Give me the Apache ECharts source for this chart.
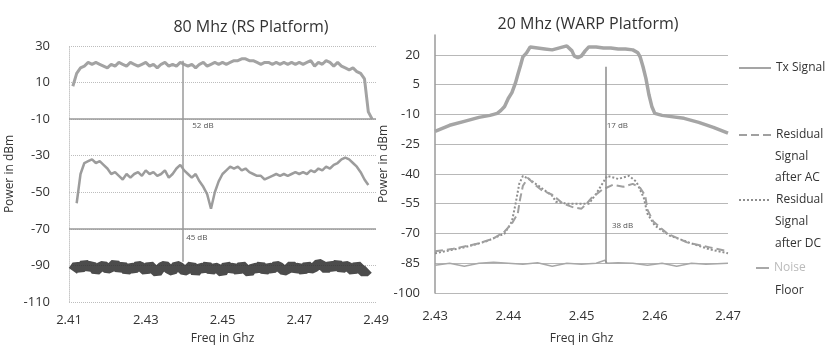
<!DOCTYPE html>
<html>
<head>
<meta charset="utf-8">
<title>Tx / residual spectrum</title>
<script src="https://cdn.jsdelivr.net/npm/echarts@6/dist/echarts.min.js"></script>
<style>
  html, body { margin: 0; padding: 0; background: #ffffff; }
  #chart { width: 838px; height: 350px; }
</style>
</head>
<body>
<div id="chart"></div>
<script>
// RS platform (80 MHz), one sample per MHz
const freqRS = [
  2.410, 2.411, 2.412, 2.413, 2.414, 2.415, 2.416, 2.417, 2.418, 2.419,
  2.420, 2.421, 2.422, 2.423, 2.424, 2.425, 2.426, 2.427, 2.428, 2.429,
  2.430, 2.431, 2.432, 2.433, 2.434, 2.435, 2.436, 2.437, 2.438, 2.439,
  2.440, 2.441, 2.442, 2.443, 2.444, 2.445, 2.446, 2.447, 2.448, 2.449,
  2.450, 2.451, 2.452, 2.453, 2.454, 2.455, 2.456, 2.457, 2.458, 2.459,
  2.460, 2.461, 2.462, 2.463, 2.464, 2.465, 2.466, 2.467, 2.468, 2.469,
  2.470, 2.471, 2.472, 2.473, 2.474, 2.475, 2.476, 2.477, 2.478, 2.479,
  2.480, 2.481, 2.482, 2.483, 2.484, 2.485, 2.486, 2.487, 2.488, 2.489,
  2.490
];
const txRS = [
  null, 8, 15, 18, 19, 21, 20, 21, 20, 19,
  18, 20, 19, 21, 20, 19, 21, 20, 19, 20,
  21, 19, 20, 18, 20, 21, 19, 20, 19, 21,
  20, 19, 20, 18, 20, 21, 19, 20, 21, 20,
  21, 20, 21, 22, 22, 23, 23, 22, 22, 21,
  20, 21, 21, 20, 21, 20, 21, 20, 21, 20,
  21, 20, 21, 22, 19, 21, 20, 22, 21, 19,
  21, 19, 18, 17, 18, 16, 15, 12, -6, -10,
  null
];
const residualRS = [
  null, null, -56, -40, -34, -33, -32, -34, -33, -35,
  -37, -40, -39, -41, -43, -40, -42, -40, -39, -41,
  -38, -40, -39, -41, -40, -38, -42, -40, -37, -35,
  -38, -40, -42, -40, -44, -47, -51, -59, -50, -44,
  -40, -38, -36, -37, -36, -38, -37, -39, -40, -41,
  -41, -43, -42, -41, -40, -41, -40, -41, -40, -39,
  -40, -39, -40, -38, -39, -37, -38, -36, -37, -35,
  -34, -32, -31, -32, -34, -36, -39, -43, -46, null,
  null
];
const noiseRS = [
  null, -93, -90, -92, -89, -91, -90, -93, -91, -90,
  -92, -91, -89, -92, -90, -93, -91, -92, -90, -91,
  -93, -90, -92, -94, -91, -90, -92, -93, -90, -91,
  -93, -92, -90, -94, -91, -92, -90, -93, -91, -92,
  -94, -90, -92, -91, -93, -90, -92, -94, -91, -92,
  -90, -93, -91, -92, -90, -91, -93, -92, -90, -92,
  -91, -93, -90, -92, -91, -89, -90, -92, -90, -91,
  -89, -92, -90, -91, -93, -90, -92, -94, -92, null,
  null
];

// WARP platform (20 MHz), [GHz, dBm]
const txWarp = [
  [2.430, -18.5], [2.432, -15.5], [2.434, -13.5], [2.436, -11.5], [2.4375, -10.5],
  [2.4385, -9.5], [2.439, -8], [2.4395, -6], [2.440, -2], [2.4405, 1],
  [2.441, 6], [2.4413, 10], [2.4417, 15], [2.442, 19], [2.4425, 21],
  [2.443, 24], [2.444, 23.5], [2.445, 23], [2.446, 22.5], [2.447, 23.5],
  [2.448, 24.5], [2.4487, 22], [2.449, 19.5], [2.4495, 18.5], [2.450, 19.5],
  [2.4505, 22], [2.451, 24], [2.452, 24], [2.453, 23.5], [2.454, 23.5],
  [2.455, 23], [2.456, 23], [2.457, 22.5], [2.4577, 21], [2.458, 19],
  [2.4584, 14], [2.4588, 8], [2.4592, 0], [2.4596, -6], [2.460, -9.5],
  [2.461, -10.5], [2.462, -11], [2.464, -12], [2.466, -14], [2.468, -16.5],
  [2.470, -19.5]
];
const residualAC = [
  [2.430, -79], [2.4325, -77.7], [2.436, -75], [2.438, -72.5], [2.4395, -69],
  [2.4405, -65], [2.4413, -60], [2.4416, -53], [2.442, -46], [2.4427, -42],
  [2.4435, -45], [2.4445, -48], [2.446, -50.5], [2.4475, -55], [2.449, -57],
  [2.450, -57.5], [2.4507, -55], [2.4514, -52], [2.4528, -48], [2.4543, -45.5],
  [2.4557, -46.5], [2.457, -45], [2.458, -47], [2.4587, -51], [2.459, -58],
  [2.4598, -64], [2.4617, -70], [2.4644, -74.5], [2.4675, -77], [2.470, -79]
];
const residualDC = [
  [2.430, -80], [2.434, -77], [2.437, -74], [2.4395, -70], [2.4405, -64],
  [2.441, -55], [2.4415, -45], [2.442, -41], [2.443, -43], [2.4445, -47],
  [2.446, -51], [2.4465, -54], [2.448, -55], [2.4495, -55], [2.451, -55],
  [2.452, -50], [2.453, -44], [2.4535, -41], [2.455, -42.5], [2.4565, -41],
  [2.4575, -44], [2.4585, -52], [2.459, -60], [2.460, -66], [2.462, -71],
  [2.465, -75], [2.4675, -78], [2.470, -80]
];
const noiseWarp = [
  [2.430, -86], [2.432, -85], [2.434, -86.5], [2.436, -85], [2.438, -84.5],
  [2.440, -85], [2.442, -85.5], [2.444, -84.8], [2.446, -86.5], [2.448, -85],
  [2.450, -85.5], [2.452, -85], [2.4532, -83.5], [2.4535, -85], [2.455, -84.8],
  [2.457, -85], [2.459, -86], [2.461, -85], [2.463, -86.5], [2.465, -85],
  [2.467, -85.5], [2.470, -85]
];

const FONT = '"Open Sans", "Liberation Sans", sans-serif';
const pairs = (vals) => freqRS.map((f, i) => [f, vals[i]]);

const chart = echarts.init(document.getElementById('chart'), null, { renderer: 'canvas' });

const note = (x, y, text) => ({
  coord: [x, y], name: text, symbol: 'rect', symbolSize: 0,
  label: { show: true, formatter: '{b}', fontSize: 8, color: '#555', fontFamily: FONT }
});

// one legend block per entry so each can sit at its own height
const legendBlock = (name, label, left, top, width, color) => ({
  data: [name], left: left, top: top, padding: 0, itemWidth: width, itemHeight: 12,
  selectedMode: false, formatter: label, itemStyle: { opacity: 0 },
  textStyle: { fontSize: 12, color: color }
});

chart.setOption({
  animation: false,
  textStyle: { fontFamily: FONT },
  title: [
    { text: '80 Mhz (RS Platform)', left: 246, top: 14, textAlign: 'center',
      textStyle: { fontSize: 16, fontWeight: 'normal', color: '#333' } },
    { text: '20 Mhz (WARP Platform)', left: 583, top: 11, textAlign: 'center',
      textStyle: { fontSize: 16, fontWeight: 'normal', color: '#333' } }
  ],
  grid: [
    { left: 69, right: 462, top: 46, bottom: 45 },
    { left: 435, right: 110, top: 35, bottom: 52 }
  ],
  xAxis: [
    {
      gridIndex: 0, type: 'value', min: 2.41, max: 2.49, interval: 0.02,
      name: 'Freq in Ghz', nameLocation: 'middle', nameGap: 31,
      nameTextStyle: { fontSize: 12, color: '#333' },
      axisLine: { show: false }, axisTick: { show: false }, splitLine: { show: false },
      axisLabel: { fontSize: 13, color: '#333', margin: 12, formatter: v => v.toFixed(2) }
    },
    {
      gridIndex: 1, type: 'value', min: 2.43, max: 2.47, interval: 0.01,
      name: 'Freq in Ghz', nameLocation: 'middle', nameGap: 40,
      nameTextStyle: { fontSize: 12, color: '#333' },
      axisLine: { show: false }, axisTick: { show: false }, splitLine: { show: false },
      axisLabel: { fontSize: 13, color: '#333', margin: 17, formatter: v => v.toFixed(2) }
    }
  ],
  yAxis: [
    {
      gridIndex: 0, type: 'value', min: -110, max: 30, interval: 20,
      name: 'Power in dBm', nameLocation: 'middle', nameGap: 53,
      nameTextStyle: { fontSize: 12, color: '#333' },
      axisLine: { show: true, lineStyle: { color: '#c8c8c8', type: 'dotted' } },
      axisTick: { show: false },
      axisLabel: { fontSize: 13, color: '#333', margin: 19 },
      splitLine: { lineStyle: { color: '#bdbdbd', type: 'dotted' } }
    },
    {
      gridIndex: 1, type: 'value', min: -100, max: 30, interval: 15,
      name: 'Power in dBm', nameLocation: 'middle', nameGap: 45,
      nameTextStyle: { fontSize: 12, color: '#333' },
      axisLine: { show: true, lineStyle: { color: '#9a9a9a', width: 1.5 } },
      axisTick: { show: false },
      axisLabel: { fontSize: 13, color: '#333', margin: 15, showMaxLabel: false },
      splitLine: { showMaxLine: false, lineStyle: { color: '#b8b8b8', width: 1.2 } }
    }
  ],
  legend: [
    legendBlock('Tx Signal', 'Tx Signal', 738, 62, 32, '#333'),
    legendBlock('Residual Signal after AC', 'Residual', 738, 129, 32, '#333'),
    legendBlock('Residual Signal after DC', 'Residual', 738, 194, 32, '#333'),
    legendBlock('Noise Floor', 'Noise', 755, 262, 13, '#bbbbbb')
  ],
  graphic: [
    ['Signal', 157], ['after AC', 178], ['Signal', 222], ['after DC', 244], ['Floor', 291]
  ].map(([t, y]) => ({
    type: 'text', x: 775, y: y,
    style: { text: t, fill: '#333', font: '12px ' + FONT, verticalAlign: 'middle' }
  })),
  series: [
    {
      name: 'RS Noise', type: 'line', xAxisIndex: 0, yAxisIndex: 0,
      data: pairs(noiseRS), symbol: 'none',
      lineStyle: { color: 'rgba(45,45,45,0.85)', width: 10 }
    },
    {
      name: 'RS Residual', type: 'line', xAxisIndex: 0, yAxisIndex: 0,
      data: pairs(residualRS), symbol: 'none',
      lineStyle: { color: '#9c9c9c', width: 2.5 }
    },
    {
      name: 'RS Tx', type: 'line', xAxisIndex: 0, yAxisIndex: 0,
      data: pairs(txRS), symbol: 'none',
      lineStyle: { color: '#a3a3a3', width: 3 },
      markLine: {
        silent: true, symbol: 'none', label: { show: false },
        lineStyle: { color: '#9a9a9a', width: 1.5, type: 'solid' },
        data: [
          { yAxis: -10 },
          { yAxis: -70 },
          [{ coord: [2.4397, 22] }, { coord: [2.4397, -88] }]
        ]
      },
      markPoint: { data: [note(2.4449, -13.5, '52 dB'), note(2.4433, -75, '45 dB')] }
    },
    {
      name: 'Noise Floor', type: 'line', xAxisIndex: 1, yAxisIndex: 1,
      data: noiseWarp, symbol: 'none',
      itemStyle: { color: '#a8a8a8' },
      lineStyle: { color: '#a8a8a8', width: 1.5 },
      markLine: {
        silent: true, symbol: 'none', label: { show: false },
        lineStyle: { color: '#8c8c8c', width: 1.5, type: 'solid' },
        data: [[{ coord: [2.4533, 14] }, { coord: [2.4533, -85] }]]
      },
      markPoint: { data: [note(2.4549, -15.5, '17 dB'), note(2.4556, -66, '38 dB')] }
    },
    {
      name: 'Residual Signal after DC', type: 'line', xAxisIndex: 1, yAxisIndex: 1,
      data: residualDC, symbol: 'none',
      itemStyle: { color: '#8e8e8e' },
      lineStyle: { color: '#8e8e8e', width: 2, type: 'dotted' }
    },
    {
      name: 'Residual Signal after AC', type: 'line', xAxisIndex: 1, yAxisIndex: 1,
      data: residualAC, symbol: 'none',
      itemStyle: { color: '#a0a0a0' },
      lineStyle: { color: '#a0a0a0', width: 2, type: 'dashed' }
    },
    {
      name: 'Tx Signal', type: 'line', xAxisIndex: 1, yAxisIndex: 1,
      data: txWarp, symbol: 'none',
      itemStyle: { color: '#a5a5a5' },
      lineStyle: { color: '#a5a5a5', width: 3.5 }
    }
  ]
});
</script>
</body>
</html>
